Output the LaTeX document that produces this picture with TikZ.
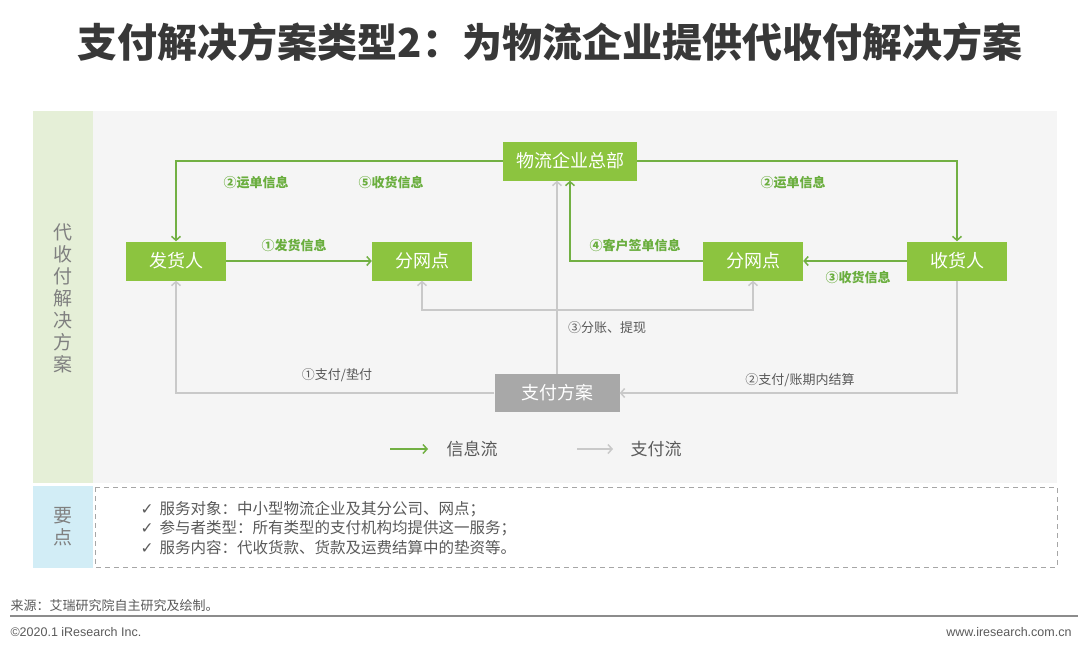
\documentclass[tikz,border=0pt]{standalone}
\usepackage{fontspec}
\setmainfont{Noto Sans CJK SC}
\newfontfamily\symfont{DejaVu Sans}
\newfontfamily\latinfont{Liberation Sans}
\usetikzlibrary{arrows.meta,positioning}

\definecolor{boxgreen}{HTML}{8CC43F}
\definecolor{infogreen}{HTML}{72B043}
\definecolor{lblgreen}{HTML}{6AAE3E}
\definecolor{paygray}{HTML}{C9C9C9}
\definecolor{boxgray}{HTML}{A8A8A8}
\definecolor{bandgreen}{HTML}{E5EFD7}
\definecolor{bandblue}{HTML}{D2EDF6}
\definecolor{panel}{HTML}{F5F5F5}
\definecolor{txtgray}{HTML}{595959}

\begin{document}
\begin{tikzpicture}[
  x=1pt, y=-1pt,
  font=\fontsize{17}{20}\selectfont,
  gbox/.style={fill=boxgreen, text=white, minimum width=100pt, minimum height=39pt, inner sep=0pt,
               font=\fontsize{18}{20}\selectfont},
  pbox/.style={fill=boxgray, text=white, minimum width=125pt, minimum height=38pt, inner sep=0pt,
               font=\fontsize{18}{20}\selectfont},
  info/.style={draw=infogreen, line width=1.5pt, -{Straight Barb[length=4pt, width=9pt, line width=1.5pt]}},
  pay/.style={draw=paygray, line width=1.5pt, -{Straight Barb[length=4pt, width=9pt, line width=1.5pt]}},
  glbl/.style={text=lblgreen, font=\fontsize{13}{15}\selectfont\bfseries, inner sep=1pt},
  plbl/.style={text=txtgray, font=\fontsize{13}{15}\selectfont, inner sep=1pt},
]
\useasboundingbox (0,0) rectangle (1080,646);

% ---------------- Title ----------------
\node[font=\fontsize{40}{44}\selectfont\bfseries, text=black!78] (title) at (550,42)
  {支付解决方案类型2：为物流企业提供代收付解决方案};

% ---------------- Panels ----------------
\fill[panel] (93,111) rectangle (1057,483);
\fill[bandgreen] (33,111) rectangle (93,483);
\fill[bandblue] (33,486) rectangle (93,568);
\draw[black!35, dashed, dash pattern=on 5pt off 4pt] (95,487) rectangle (1057,567);
\node[text=black!50, font=\fontsize{19}{22}\selectfont, align=center] (band) at (63,298)
  {代\\收\\付\\解\\决\\方\\案};
\node[text=black!50, font=\fontsize{19}{22}\selectfont, align=center] (keypts) at (63,527)
  {要\\点};

% ---------------- Participants ----------------
\node[gbox, minimum width=134pt] (hq) at (570,161) {物流企业总部};
\node[gbox] (ship) at (176,261) {发货人};
\node[gbox] (netL) at (422,261) {分网点};
\node[gbox] (netR) at (753,261) {分网点};
\node[gbox] (recv) at (957,261) {收货人};
\node[pbox] (plan) at (557,393) {支付方案};

% ---------------- Information flow ----------------
\draw[info] (hq.west) -| (ship.north);
\draw[info] (hq.east) -| (recv.north);
\draw[info] (ship) -- (netL);
\draw[info] (recv) -- (netR);
\draw[info] (netR.west) -| (hq.south);

\node[glbl] (w2a) at (256,183) {②运单信息};
\node[glbl] (r5)  at (391,183) {⑤收货信息};
\node[glbl] (w2b) at (793,183) {②运单信息};
\node[glbl] (s1)  at (294,246) {①发货信息};
\node[glbl] (c4)  at (635,246) {④客户签单信息};
\node[glbl] (r3)  at (858,278) {③收货信息};

% ---------------- Payment flow ----------------
\coordinate (split) at (557,310);
\draw[pay] (plan.north) -- (plan.north |- hq.south);
\draw[pay] (split) -| (netL.south);
\draw[pay] (split) -| (netR.south);
\draw[pay] (plan.west) -| (ship.south);
\draw[pay] (recv.south) |- (plan.east);

\node[plbl] (p3) at (607,328) {③分账、提现};
\node[plbl] (p1) at (337,375) {①支付/垫付};
\node[plbl] (p2) at (800,380) {②支付/账期内结算};

% ---------------- Legend ----------------
\coordinate (li1) at (390,449);
\coordinate (li2) at (428,449);
\coordinate (lp1) at (577,449);
\coordinate (lp2) at (613,449);
\draw[info, line width=1.2pt] (li1) -- (li2);
\draw[pay, line width=1.2pt] (lp1) -- (lp2);
\node[text=txtgray, anchor=west] (lgi) at (443,449) {信息流};
\node[text=txtgray, anchor=west] (lgp) at (627,449) {支付流};

% ---------------- Key points ----------------
\node[text=txtgray, anchor=west, align=left, font=\fontsize{15.5}{19.5}\selectfont] (pts) at (137,528)
  {{\symfont ✓}\, 服务对象：中小型物流企业及其分公司、网点；\\
   {\symfont ✓}\, 参与者类型：所有类型的支付机构均提供这一服务；\\
   {\symfont ✓}\, 服务内容：代收货款、货款及运费结算中的垫资等。};

% ---------------- Footer ----------------
\node[text=txtgray, anchor=west, font=\fontsize{13}{15}\selectfont] (src) at (7,606)
  {来源：艾瑞研究院自主研究及绘制。};
\draw[black!45, line width=1.5pt] (10,616) -- (1078,616);
\node[text=txtgray, anchor=west, font=\latinfont\fontsize{12.5}{14}\selectfont] (copy) at (7,632)
  {©2020.1 iResearch Inc.};
\node[text=txtgray, anchor=east, font=\latinfont\fontsize{12.5}{14}\selectfont] (web) at (1075,632)
  {www.iresearch.com.cn};
\end{tikzpicture}
\end{document}
